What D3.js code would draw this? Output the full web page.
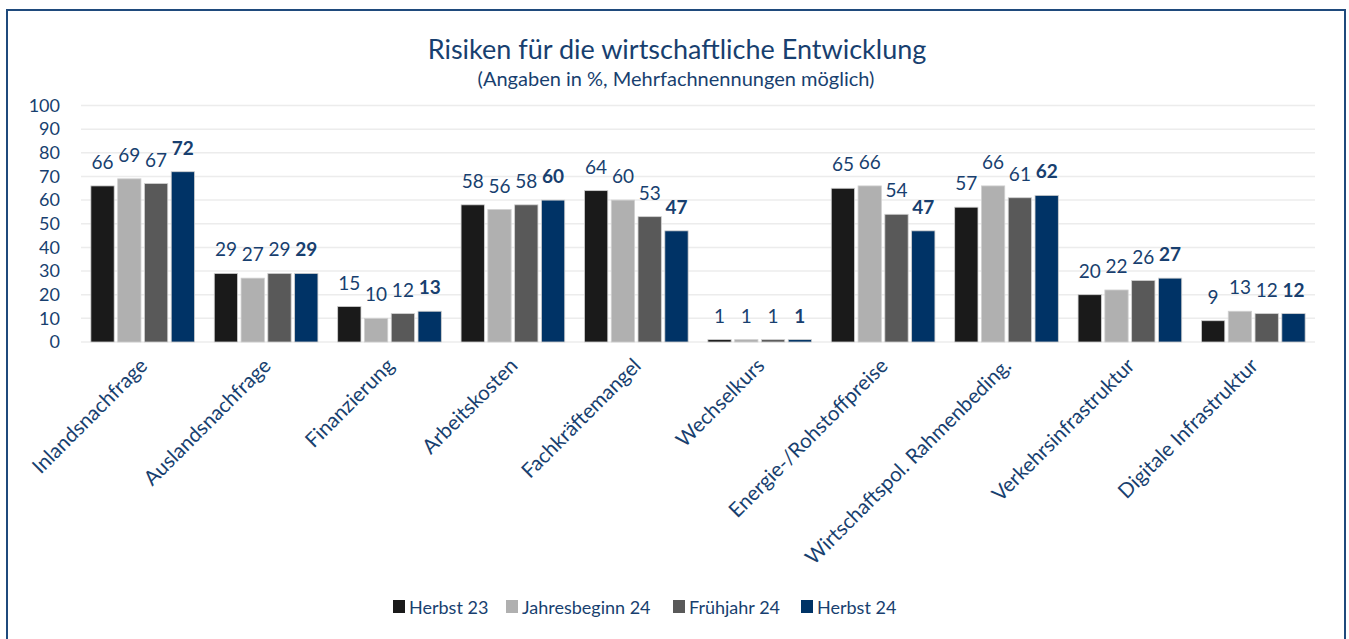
<!DOCTYPE html>
<meta charset="utf-8">
<html>
<head>
<script src="https://d3js.org/d3.v7.min.js"></script>
<style>
  body { margin: 0; background: #fff; }
  svg text { font-family: Lato, "Noto Sans", sans-serif; }
</style>
</head>
<body>
<svg id="chart" width="1349" height="639"></svg>
<script>
// categories and series
var categories = ["Inlandsnachfrage", "Auslandsnachfrage", "Finanzierung", "Arbeitskosten",
    "Fachkräftemangel", "Wechselkurs", "Energie-/Rohstoffpreise",
    "Wirtschaftspol. Rahmenbeding.", "Verkehrsinfrastruktur", "Digitale Infrastruktur"];
var seriesNames = ["Herbst 23", "Jahresbeginn 24", "Frühjahr 24", "Herbst 24"];
var herbst23       = [66, 29, 15, 58, 64, 1, 65, 57, 20, 9];
var jahresbeginn24 = [69, 27, 10, 56, 60, 1, 66, 66, 22, 13];
var fruehjahr24    = [67, 29, 12, 58, 53, 1, 54, 61, 26, 12];
var herbst24       = [72, 29, 13, 60, 47, 1, 47, 62, 27, 12];
var yTicks = [0, 10, 20, 30, 40, 50, 60, 70, 80, 90, 100];

var colors = ["#1a1a1a", "#b0b0b0", "#595959", "#003366"];
var textColor = "#183f6f";

var svg = d3.select("#chart");
var allSeries = [herbst23, jahresbeginn24, fruehjahr24, herbst24];

// frame
svg.append("rect")
    .attr("x", 7).attr("y", 10)
    .attr("width", 1338).attr("height", 640)
    .attr("fill", "#fff")
    .attr("stroke", "#1f4a7c").attr("stroke-width", 2);

// title
svg.append("text")
    .attr("x", 677).attr("y", 59)
    .attr("text-anchor", "middle")
    .attr("font-size", 27).attr("fill", textColor)
    .text("Risiken für die wirtschaftliche Entwicklung");
svg.append("text")
    .attr("x", 676).attr("y", 86)
    .attr("text-anchor", "middle")
    .attr("font-size", 20).attr("fill", textColor)
    .text("(Angaben in %, Mehrfachnennungen möglich)");

var plotLeft = 81, plotRight = 1315, plotTop = 105.5, plotBottom = 342;

var x0 = d3.scaleBand().domain(categories).range([plotLeft, plotRight]).paddingInner(0.16).paddingOuter(0.08);
var x1 = d3.scaleBand().domain(seriesNames).range([0, x0.bandwidth()]).paddingInner(0.13);
var y = d3.scaleLinear().domain([0, 100]).range([plotBottom, plotTop]);

// gridlines
svg.append("g").selectAll("line")
    .data(yTicks)
    .enter().append("line")
    .attr("x1", plotLeft).attr("x2", plotRight)
    .attr("y1", function(d) { return y(d); })
    .attr("y2", function(d) { return y(d); })
    .attr("stroke", "#ececec").attr("stroke-width", 1.5);

// y axis labels
var yAxis = d3.axisLeft(y).tickValues(yTicks).tickSize(0).tickPadding(0);
var gy = svg.append("g").attr("transform", "translate(60,0)").call(yAxis);
gy.select(".domain").remove();
gy.selectAll("text").attr("font-size", 18).attr("fill", textColor)
    .style("font-family", "Lato, 'Noto Sans', sans-serif");

// bars
var groups = svg.append("g").selectAll("g")
    .data(categories)
    .enter().append("g")
    .attr("transform", function(d) { return "translate(" + x0(d) + ",0)"; });

function rows(d, i) {
    return seriesNames.map(function(s, j) { return {s: s, j: j, v: allSeries[j][i]}; });
}

groups.selectAll("rect")
    .data(rows)
    .enter().append("rect")
    .attr("x", function(d) { return x1(d.s); })
    .attr("y", function(d) { return y(d.v); })
    .attr("width", x1.bandwidth())
    .attr("height", function(d) { return y(0) - y(d.v); })
    .attr("fill", function(d) { return colors[d.j]; })
    .attr("stroke", "#d0d0d0").attr("stroke-width", 0.8);

groups.selectAll("text")
    .data(rows)
    .enter().append("text")
    .attr("x", function(d) { return x1(d.s) + x1.bandwidth() / 2; })
    .attr("y", function(d) { return y(d.v) - 17; })
    .attr("text-anchor", "middle")
    .attr("font-size", 19)
    .attr("font-weight", function(d) { return d.j == 3 ? "bold" : "normal"; })
    .attr("fill", textColor)
    .text(function(d) { return d.v; });

// category labels
svg.append("g").selectAll("text")
    .data(categories)
    .enter().append("text")
    .attr("transform", function(d) {
        return "translate(" + (x0(d) + x0.bandwidth() / 2 + 6) + ",367) rotate(-45)";
    })
    .attr("text-anchor", "end")
    .attr("font-size", 20.5)
    .attr("fill", textColor)
    .text(function(d) { return d; });

// legend
var legendX = [393, 506, 673, 801];
var legend = svg.append("g").selectAll("g")
    .data(seriesNames)
    .enter().append("g")
    .attr("transform", function(d, i) { return "translate(" + legendX[i] + ",600)"; });
legend.append("rect")
    .attr("width", 12).attr("height", 13)
    .attr("fill", function(d, i) { return colors[i]; });
legend.append("text")
    .attr("x", 16).attr("y", 13.5)
    .attr("font-size", 18)
    .attr("fill", textColor)
    .text(function(d) { return d; });
</script>
</body>
</html>
